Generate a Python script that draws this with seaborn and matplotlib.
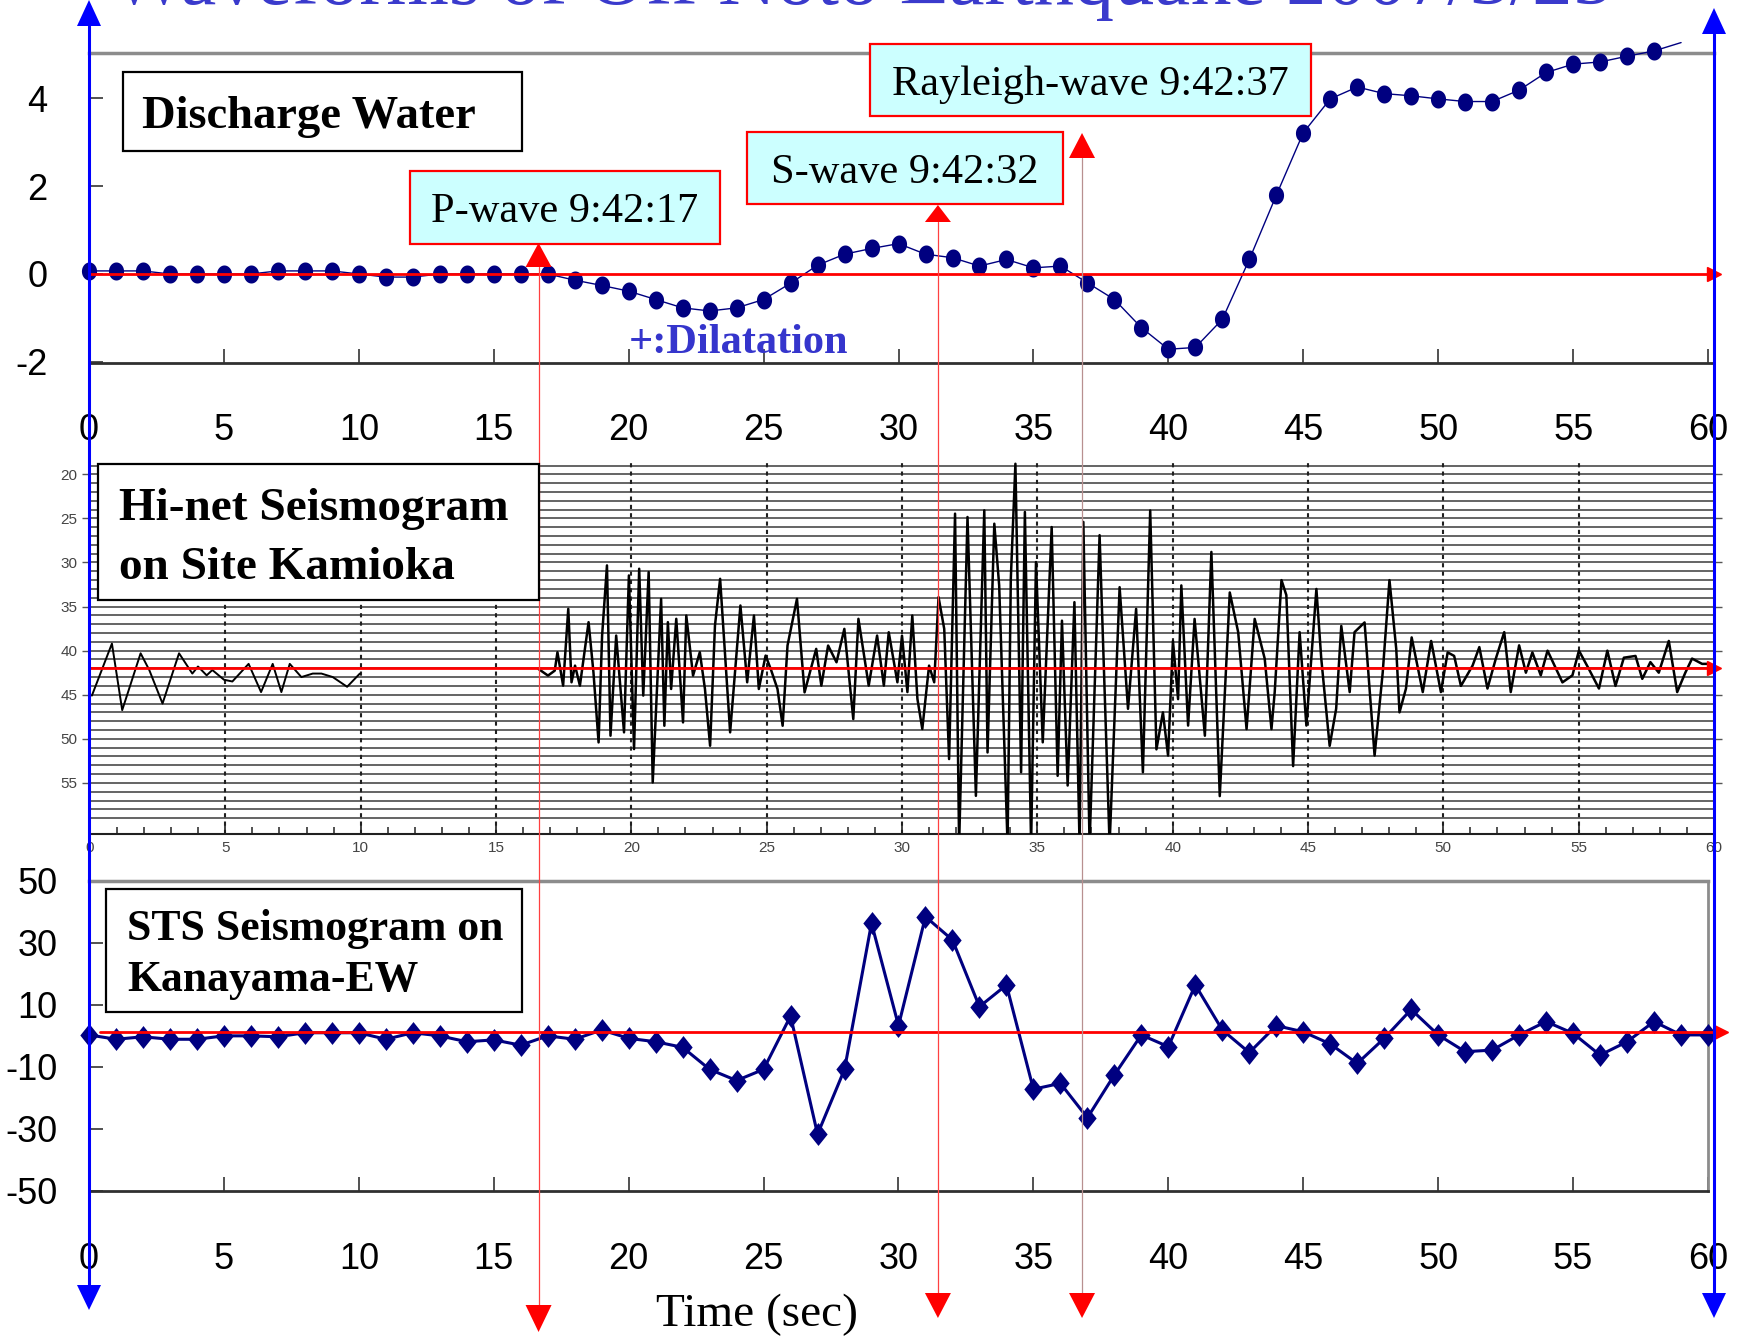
import numpy as np
import pandas as pd
import matplotlib
matplotlib.use("Agg")
import matplotlib.pyplot as plt
import seaborn as sns
from matplotlib import font_manager as fm
from matplotlib.lines import Line2D
from matplotlib.patches import Polygon, Rectangle
from matplotlib.path import Path

# ---------------------------------------------------------------- data
title_text = "Waveforms of Off Noto Earthquake 2007/3/25"
time_ticks = [0, 5, 10, 15, 20, 25, 30, 35, 40, 45, 50, 55, 60]

# Discharge water (one value per second, 0..59 s)
discharge_time = list(range(60))
discharge_values = [0.07, 0.07, 0.07, 0.0, 0.0, 0.0, 0.0, 0.07, 0.07, 0.07,
                    0.0, -0.07, -0.07, 0.0, 0.0, 0.0, 0.0, 0.0, -0.14, -0.26,
                    -0.39, -0.58, -0.77, -0.84, -0.77, -0.58, -0.21, 0.2, 0.45, 0.58,
                    0.69, 0.45, 0.37, 0.18, 0.33, 0.14, 0.18, -0.2, -0.58, -1.22,
                    -1.71, -1.67, -1.03, 0.33, 1.79, 3.21, 3.98, 4.25, 4.1, 4.05,
                    3.98, 3.92, 3.92, 4.18, 4.58, 4.77, 4.82, 4.95, 5.07, 5.26]
discharge_yticks = [-2, 0, 2, 4]

# STS seismogram on Kanayama-EW (one value per second, 0..60 s)
sts_time = list(range(61))
sts_values = [0.3, -1.1, -0.3, -1.1, -1.1, 0.0, 0.0, -0.3, 1.0, 1.0,
              1.0, -1.1, 1.0, 0.0, -1.9, -1.3, -3.0, 0.0, -1.1, 1.9,
              -0.8, -1.9, -3.7, -10.8, -14.4, -10.8, 6.4, -31.7, -10.8, 36.3,
              3.3, 38.4, 30.9, 9.4, 16.4, -17.2, -15.3, -26.4, -12.6, 0.3,
              -3.5, 16.4, 1.9, -5.4, 3.3, 1.3, -2.6, -8.9, -0.8, 8.5,
              0.3, -5.1, -4.6, 0.3, 4.6, 0.8, -6.2, -1.9, 4.6, 0.3, 0.3]
sts_yticks = [-50, -30, -10, 10, 30, 50]
sts_zero_level = 1.3

# Hi-net seismogram (Kamioka): trace before the gap
hinet_early_time = [0.07, 0.81, 1.19, 1.87, 2.19, 2.68, 3.29, 3.78, 3.99, 4.31,
                    4.52, 4.95, 5.26, 5.86, 6.32, 6.75, 7.07, 7.38, 7.81, 8.23,
                    8.55, 8.97, 9.5, 9.97]
hinet_early_amp = [45.1, 39.2, 46.75, 40.3, 42.2, 46.0, 40.3, 42.6, 41.8, 42.8,
                   42.2, 43.3, 43.5, 41.5, 44.7, 41.5, 44.7, 41.5, 43.0, 42.6,
                   42.6, 43.0, 44.1, 42.6]
# main trace from the P arrival on
hinet_main_time = [16.57, 16.92, 17.17, 17.27, 17.48, 17.67, 17.79, 17.92, 18.1, 18.42,
                   18.6, 18.79, 18.92, 19.1, 19.23, 19.44, 19.73, 19.91, 20.1, 20.29,
                   20.44, 20.64, 20.79, 21.1, 21.22, 21.35, 21.47, 21.66, 21.91, 22.03,
                   22.28, 22.53, 22.72, 22.91, 23.09, 23.28, 23.65, 24.03, 24.28, 24.53,
                   24.71, 24.96, 25.15, 25.4, 25.59, 25.77, 26.12, 26.4, 26.83, 27.02,
                   27.27, 27.58, 27.87, 28.2, 28.39, 28.77, 29.08, 29.33, 29.51, 29.83,
                   30.0, 30.2, 30.38, 30.57, 30.75, 31.0, 31.19, 31.35, 31.56, 31.74,
                   31.96, 32.11, 32.42, 32.73, 33.04, 33.16, 33.41, 33.59, 33.9, 34.02,
                   34.19, 34.4, 34.54, 34.77, 34.95, 35.2, 35.53, 35.75, 35.91, 36.12,
                   36.37, 36.56, 36.7, 36.93, 37.3, 37.67, 38.04, 38.35, 38.65, 38.9,
                   39.17, 39.4, 39.64, 39.83, 40.01, 40.2, 40.32, 40.57, 40.81, 41.19,
                   41.43, 41.74, 42.11, 42.42, 42.73, 43.03, 43.4, 43.65, 43.77, 44.02,
                   44.2, 44.45, 44.69, 44.94, 45.31, 45.49, 45.8, 46.04, 46.23, 46.54,
                   46.72, 47.09, 47.46, 47.76, 48.01, 48.26, 48.38, 48.62, 48.83, 49.24,
                   49.55, 49.91, 50.16, 50.4, 50.65, 51.08, 51.33, 51.63, 51.94, 52.25,
                   52.49, 52.8, 53.05, 53.29, 53.6, 53.85, 54.4, 54.77, 55.01, 55.38,
                   55.75, 56.06, 56.36, 56.67, 57.1, 57.35, 57.65, 57.96, 58.33, 58.64,
                   58.94, 59.19, 59.56, 59.8]
hinet_main_amp = [42.08, 42.83, 42.27, 40.18, 43.97, 35.26, 43.59, 41.7, 43.97, 36.77,
                  42.45, 50.41, 38.29, 30.33, 49.65, 38.29, 49.27, 31.47, 51.17, 30.71,
                  45.1, 31.09, 54.95, 34.12, 48.52, 36.77, 44.35, 36.39, 48.14, 36.02,
                  42.83, 40.18, 44.35, 50.79, 37.15, 31.85, 49.27, 34.88, 43.59, 36.02,
                  44.35, 40.56, 42.08, 44.35, 48.52, 39.42, 34.12, 44.73, 39.8, 43.97,
                  39.42, 41.32, 37.53, 47.76, 36.39, 43.97, 38.29, 43.97, 37.91, 43.59,
                  38.3, 44.7, 36.02, 45.48, 48.89, 41.7, 43.59, 33.93, 37.53, 52.3,
                  24.46, 62.0, 24.84, 56.47, 24.08, 51.55, 25.6, 32.6, 62.0, 31.85,
                  18.8, 53.8, 24.27, 62.0, 29.95, 50.4, 25.98, 54.2, 36.6, 55.3,
                  34.5, 62.0, 25.4, 62.0, 26.9, 62.0, 32.8, 46.6, 35.26, 53.8,
                  24.1, 51.2, 47.0, 51.9, 38.9, 45.5, 32.6, 48.5, 36.4, 49.65,
                  28.8, 56.5, 33.4, 37.9, 48.9, 36.4, 40.9, 48.9, 44.7, 32.0,
                  33.7, 53.1, 37.9, 48.5, 33.0, 40.9, 50.8, 46.6, 37.2, 44.7,
                  37.9, 36.8, 51.9, 42.5, 32.0, 39.8, 47.0, 44.3, 38.5, 44.7,
                  38.9, 44.7, 40.2, 40.6, 44.0, 41.7, 39.6, 44.3, 40.9, 37.9,
                  44.7, 39.4, 42.5, 40.2, 42.8, 40.0, 43.6, 42.8, 40.0, 42.1,
                  44.3, 40.0, 44.0, 40.8, 40.6, 43.2, 41.3, 42.5, 38.9, 44.7,
                  42.5, 40.9, 41.5, 41.5]
hinet_trace_levels = list(range(19, 60))
hinet_yticks = [20, 25, 30, 35, 40, 45, 50, 55]
hinet_zero_level = 42

phase_labels = ["P-wave 9:42:17", "S-wave 9:42:32", "Rayleigh-wave 9:42:37"]
phase_times = [16.66, 31.46, 36.8]

# ---------------------------------------------------------------- style
sns.set_theme(style="white")
names = {f.name for f in fm.fontManager.ttflist}
HAS_NARROW = "Liberation Sans Narrow" in names
NUM_FONT = "Liberation Sans Narrow" if HAS_NARROW else "Liberation Sans"
NUM_SIZE = 30 if HAS_NARROW else 26
SERIF = ["Liberation Serif", "DejaVu Serif"]
plt.rcParams["font.family"] = [NUM_FONT, "DejaVu Sans"]
plt.rcParams["axes.unicode_minus"] = False

W, H = 1749, 1336
fig = plt.figure(figsize=(W / 100, H / 100), dpi=100)
fig.patch.set_facecolor("white")


def fx(px):
    return px / W


def fy(py):
    return 1 - py / H


def axrect(x0, y0, x1, y1):
    return [x0 / W, 1 - y1 / H, (x1 - x0) / W, (y1 - y0) / H]


navy = "#000080"
ell_t = np.linspace(0, 2 * np.pi, 41)
ellipse_marker = Path(np.column_stack([0.42 * np.cos(ell_t), 0.5 * np.sin(ell_t)]))
diamond_marker = Path([(0, 0.5), (0.4, 0), (0, -0.5), (-0.4, 0), (0, 0.5)])

# ---------------------------------------------------------------- top panel
ax_top = fig.add_axes(axrect(89, 52.7, 1714, 363.3))
ax_top.set_facecolor("none")
top_df = pd.DataFrame({"t": discharge_time, "v": discharge_values})
sns.lineplot(data=top_df, x="t", y="v", ax=ax_top, color=navy, lw=1.0,
             marker=ellipse_marker, markersize=13, markevery=slice(0, 59),
             markeredgewidth=0, estimator=None, sort=False, clip_on=False, zorder=3)
ax_top.plot([0, 60.22], [0, 0], color="red", lw=2, zorder=4, clip_on=False)
ax_top.plot([60.22], [0], marker=">", color="red", ms=10, clip_on=False, zorder=4)
ax_top.set_xlim(0, 60.22)
ax_top.set_ylim(-2.03, 5.03)
ax_top.set_xticks(time_ticks)
ax_top.set_xticklabels([str(v) for v in time_ticks])
ax_top.set_yticks(discharge_yticks)
ax_top.set_yticklabels([str(v) for v in discharge_yticks])
ax_top.tick_params(axis="x", direction="in", length=10, width=1.2, color="#333333",
                   pad=35.5, labelsize=NUM_SIZE, labelcolor="black", bottom=True)
ax_top.tick_params(axis="y", direction="in", length=10, width=1.2, color="#333333",
                   pad=30, labelsize=NUM_SIZE, labelcolor="black", left=True)
for s in ["left", "right"]:
    ax_top.spines[s].set_visible(False)
ax_top.spines["top"].set_color("#8c8c8c")
ax_top.spines["top"].set_linewidth(2.5)
ax_top.spines["bottom"].set_color("#303030")
ax_top.spines["bottom"].set_linewidth(2)
ax_top.set_xlabel("")
ax_top.set_ylabel("")

# ---------------------------------------------------------------- middle panel
ax_mid = fig.add_axes(axrect(90, 462, 1714, 834))
ax_mid.set_facecolor("none")
for lvl in hinet_trace_levels:
    ax_mid.axhline(lvl, color="#3a3a3a", lw=1.1, zorder=1)
for t in time_ticks[1:-1]:
    ax_mid.axvline(t, color="#202020", lw=1.5, ls=(0, (2, 2)), zorder=1.5)
sns.lineplot(x=hinet_early_time, y=hinet_early_amp, ax=ax_mid, color="black",
             lw=1.4, estimator=None, sort=False, zorder=3)
sns.lineplot(x=hinet_main_time, y=hinet_main_amp, ax=ax_mid, color="black",
             lw=1.8, estimator=None, sort=False, zorder=3)
ax_mid.plot([0, 60], [hinet_zero_level] * 2, color="red", lw=2, zorder=4, clip_on=False)
ax_mid.plot([60], [hinet_zero_level], marker=">", color="red", ms=10, clip_on=False, zorder=4)
ax_mid.set_xlim(0, 60)
ax_mid.set_ylim(60.8, 18.6)
ax_mid.set_xticks(time_ticks)
ax_mid.set_xticklabels([str(v) for v in time_ticks])
ax_mid.set_xticks(range(0, 61), minor=True)
ax_mid.set_yticks(hinet_yticks)
ax_mid.set_yticklabels([str(v) for v in hinet_yticks])
ax_mid.tick_params(axis="x", which="major", direction="in", length=8, width=1.2,
                   color="#222222", pad=5, labelsize=11, labelcolor="#444444", bottom=True)
ax_mid.tick_params(axis="x", which="minor", direction="in", length=5, width=1.1,
                   color="#222222", bottom=True)
ax_mid.tick_params(axis="y", direction="out", length=6, width=1, color="#555555",
                   pad=3, labelsize=11, labelcolor="#444444", left=True, right=True,
                   labelright=False)
for lbl in ax_mid.get_xticklabels() + ax_mid.get_yticklabels():
    lbl.set_fontfamily("Liberation Sans")
for s in ["left", "right", "top"]:
    ax_mid.spines[s].set_visible(False)
ax_mid.spines["bottom"].set_color("#202020")
ax_mid.spines["bottom"].set_linewidth(1.5)
ax_mid.set_xlabel("")
ax_mid.set_ylabel("")

# ---------------------------------------------------------------- bottom panel
ax_bot = fig.add_axes(axrect(89, 880.7, 1708, 1191))
ax_bot.set_facecolor("none")
bot_df = pd.DataFrame({"t": sts_time, "v": sts_values})
sns.lineplot(data=bot_df, x="t", y="v", ax=ax_bot, color=navy, lw=2.2,
             marker=diamond_marker, markersize=16.5, markeredgewidth=0,
             estimator=None, sort=False, clip_on=False, zorder=3)
ax_bot.plot([0.4, 60.2], [sts_zero_level] * 2, color="red", lw=2, zorder=4, clip_on=False)
ax_bot.plot([60.49], [sts_zero_level], marker=">", color="red", ms=10, clip_on=False, zorder=4)
ax_bot.set_xlim(0, 60)
ax_bot.set_ylim(-50, 50)
ax_bot.set_xticks(time_ticks)
ax_bot.set_xticklabels([str(v) for v in time_ticks])
ax_bot.set_yticks(sts_yticks)
ax_bot.set_yticklabels([str(v) for v in sts_yticks])
ax_bot.tick_params(axis="x", direction="in", length=10, width=1.2, color="#333333",
                   pad=36.5, labelsize=NUM_SIZE, labelcolor="black", bottom=True)
ax_bot.tick_params(axis="y", direction="in", length=10, width=1.2, color="#333333",
                   pad=22.8, labelsize=NUM_SIZE, labelcolor="black", left=True)
ax_bot.spines["left"].set_visible(False)
ax_bot.spines["top"].set_color("#8c8c8c")
ax_bot.spines["top"].set_linewidth(2.5)
ax_bot.spines["right"].set_color("#8c8c8c")
ax_bot.spines["right"].set_linewidth(2)
ax_bot.spines["bottom"].set_color("#303030")
ax_bot.spines["bottom"].set_linewidth(2)
ax_bot.set_xlabel("")
ax_bot.set_ylabel("")

fig.text(fx(757.5), fy(1326), "Time (sec)", ha="center", va="baseline",
         fontsize=34, family=SERIF, color="black")


# ---------------------------------------------------------------- boxes & labels
def box(x0, y0, x1, y1, fc, ec, lw):
    fig.add_artist(Rectangle((fx(x0), fy(y1)), (x1 - x0) / W, (y1 - y0) / H,
                             transform=fig.transFigure, facecolor=fc, edgecolor=ec,
                             lw=lw, zorder=5))


def label(x, y, s, size, weight="normal", ha="left", color="black"):
    fig.text(fx(x), fy(y), s, ha=ha, va="baseline", fontsize=size,
             fontweight=weight, family=SERIF, color=color, zorder=6)


box(123, 72, 522, 151, "white", "black", 1.6)
label(142, 128, "Discharge Water", 33.5, "bold")

box(98, 464, 539, 600, "white", "black", 1.6)
label(119, 520, "Hi-net Seismogram", 34, "bold")
label(119, 579, "on Site Kamioka", 34, "bold")

box(106, 889, 522, 1012, "white", "black", 1.6)
label(127, 940, "STS Seismogram on", 31.5, "bold")
label(127, 991, "Kanayama-EW", 31.5, "bold")

cyan = "#CCFFFF"
phase_boxes = [(410, 171, 720, 244, 222), (747, 132, 1063, 204, 183), (870, 44, 1311, 116, 95)]
for (x0, y0, x1, y1, base), txt in zip(phase_boxes, phase_labels):
    box(x0, y0, x1, y1, cyan, "red", 1.6)
    label((x0 + x1) / 2, base, txt, 30.5, ha="center")

label(739, 353, "+:Dilatation", 30.5, "bold", ha="center", color="#3535cc")

fig.text(fx(862), fy(4), title_text, ha="center", va="baseline", fontsize=58,
         family=SERIF, color="#3a3acc")

# ---------------------------------------------------------------- phase arrows
fig.canvas.draw()
arrow_geom = [  # (top tip, top base, bottom base, bottom tip)
    (243, 267, 1305, 1332),
    (205, 222, 1293, 1318),
    (133, 158, 1293, 1318),
]
line_colors = ["#ff4040", "#ff4040", "#b89090"]
for t, (tt, tb, bb, bt), lc in zip(phase_times, arrow_geom, line_colors):
    xp = ax_top.transData.transform((t, 0))[0]
    fig.add_artist(Line2D([fx(xp), fx(xp)], [fy(tb), fy(bb)], transform=fig.transFigure,
                          color=lc, lw=0.9, zorder=4))
    fig.add_artist(Polygon([(fx(xp), fy(tt)), (fx(xp - 13), fy(tb)), (fx(xp + 13), fy(tb))],
                           closed=True, transform=fig.transFigure, fc="red", ec="none", zorder=4))
    fig.add_artist(Polygon([(fx(xp), fy(bt)), (fx(xp - 13), fy(bb)), (fx(xp + 13), fy(bb))],
                           closed=True, transform=fig.transFigure, fc="red", ec="none", zorder=4))

# ---------------------------------------------------------------- blue frame arrows
blue = "#0000ff"
for xb, (top_tip, top_base, bot_base, bot_tip) in [(89, (0, 26, 1285, 1310)),
                                                   (1714, (8, 34, 1293, 1318))]:
    fig.add_artist(Line2D([fx(xb), fx(xb)], [fy(top_base), fy(bot_base)],
                          transform=fig.transFigure, color=blue, lw=2.2, zorder=7))
    fig.add_artist(Polygon([(fx(xb), fy(top_tip)), (fx(xb - 12), fy(top_base)),
                            (fx(xb + 12), fy(top_base))], closed=True,
                           transform=fig.transFigure, fc=blue, ec="none", zorder=7))
    fig.add_artist(Polygon([(fx(xb), fy(bot_tip)), (fx(xb - 12), fy(bot_base)),
                            (fx(xb + 12), fy(bot_base))], closed=True,
                           transform=fig.transFigure, fc=blue, ec="none", zorder=7))

fig.savefig("out.png", dpi=100, facecolor="white")
